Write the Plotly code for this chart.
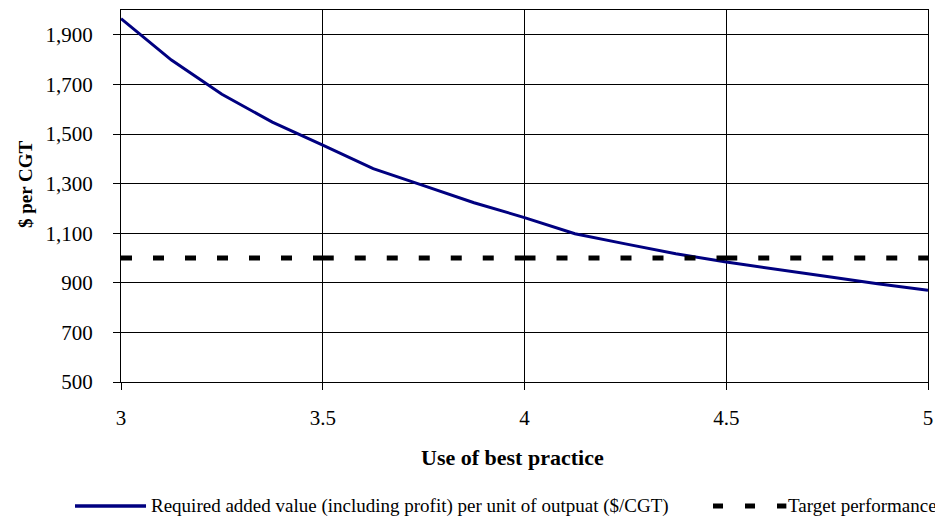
import plotly.graph_objects as go

# Data
best_practice = [3.0, 3.125, 3.25, 3.375, 3.5, 3.625, 3.75, 3.875, 4.0,
                 4.125, 4.25, 4.375, 4.5, 4.625, 4.75, 4.875, 5.0]
required_value = [1965, 1798, 1660, 1548, 1455, 1360, 1292, 1223, 1163,
                  1098, 1057, 1017, 984, 953, 925, 896, 870]

target_x = [3.0, 3.5, 4.0, 4.5, 5.0]
target_value = [1000, 1000, 1000, 1000, 1000]

y_ticks = [500, 700, 900, 1100, 1300, 1500, 1700, 1900]
x_ticks = [3, 3.5, 4, 4.5, 5]

series_names = ["Required added value (including profit) per unit of outpuat ($/CGT)",
                "Target performance"]
x_title = "Use of best practice"
y_title = "$ per CGT"

FONT = "'Liberation Serif', 'Times New Roman', Times, serif"
NAVY = "#000080"

fig = go.Figure()

fig.add_trace(go.Scatter(
    x=best_practice, y=required_value, mode="lines",
    line=dict(color=NAVY, width=3),
    name=series_names[0], showlegend=False,
))

# Target line drawn as separate segments (dash pattern restarts at each segment)
seg_x, seg_y = [], []
for i in range(len(target_x) - 1):
    seg_x += [target_x[i], target_x[i + 1], None]
    seg_y += [target_value[i], target_value[i + 1], None]
fig.add_trace(go.Scatter(
    x=seg_x, y=seg_y, mode="lines", connectgaps=False,
    line=dict(color="black", width=5, dash="11px,21px"),
    showlegend=False, name=series_names[1], hoverinfo="skip",
))

# Manual legend (paper coordinates)
LEG_Y = -0.333
fig.add_shape(type="line", xref="paper", yref="paper",
              x0=-0.057, x1=0.031, y0=LEG_Y, y1=LEG_Y,
              line=dict(color=NAVY, width=3.5))
fig.add_annotation(xref="paper", yref="paper", x=0.035, y=LEG_Y,
                   text=series_names[0], showarrow=False,
                   xanchor="left", yanchor="middle",
                   font=dict(family=FONT, size=19, color="black"))
fig.add_shape(type="line", xref="paper", yref="paper",
              x0=0.7336, x1=0.8245, y0=LEG_Y, y1=LEG_Y,
              line=dict(color="black", width=5, dash="10px,22px"))
fig.add_annotation(xref="paper", yref="paper", x=0.8235, y=LEG_Y,
                   text=series_names[1], showarrow=False,
                   xanchor="left", yanchor="middle",
                   font=dict(family=FONT, size=19, color="black"))

# Axis titles
fig.add_annotation(xref="paper", yref="paper", x=0.4854, y=-0.203,
                   text="<b>" + x_title + "</b>", showarrow=False,
                   xanchor="center", yanchor="middle",
                   font=dict(family=FONT, size=22, color="black"))
fig.add_annotation(xref="paper", yref="paper", x=-0.119, y=0.532,
                   text="<b>" + y_title + "</b>", showarrow=False, textangle=-90,
                   xanchor="center", yanchor="middle",
                   font=dict(family=FONT, size=19, color="black"))

fig.update_layout(
    width=935, height=508,
    margin=dict(l=113, r=15, t=2, b=134),
    paper_bgcolor="white", plot_bgcolor="white",
    font=dict(family=FONT, size=21, color="black"),
    showlegend=False,
    xaxis=dict(
        range=[3, 5], tickvals=x_ticks,
        showgrid=True, gridcolor="black", gridwidth=1,
        showline=True, linecolor="black", linewidth=1, mirror=True,
        ticks="outside", ticklen=7, tickcolor="black",
        ticklabelstandoff=10,
        zeroline=False,
        tickfont=dict(family=FONT, size=21, color="black"),
    ),
    yaxis=dict(
        range=[500, 2000], tickvals=y_ticks, tickformat=",",
        showgrid=True, gridcolor="black", gridwidth=1,
        showline=True, linecolor="black", linewidth=1, mirror=True,
        ticks="outside", ticklen=7, tickcolor="black",
        ticklabelstandoff=16,
        zeroline=False,
        tickfont=dict(family=FONT, size=21, color="black"),
    ),
)

fig.write_html("out.html")
